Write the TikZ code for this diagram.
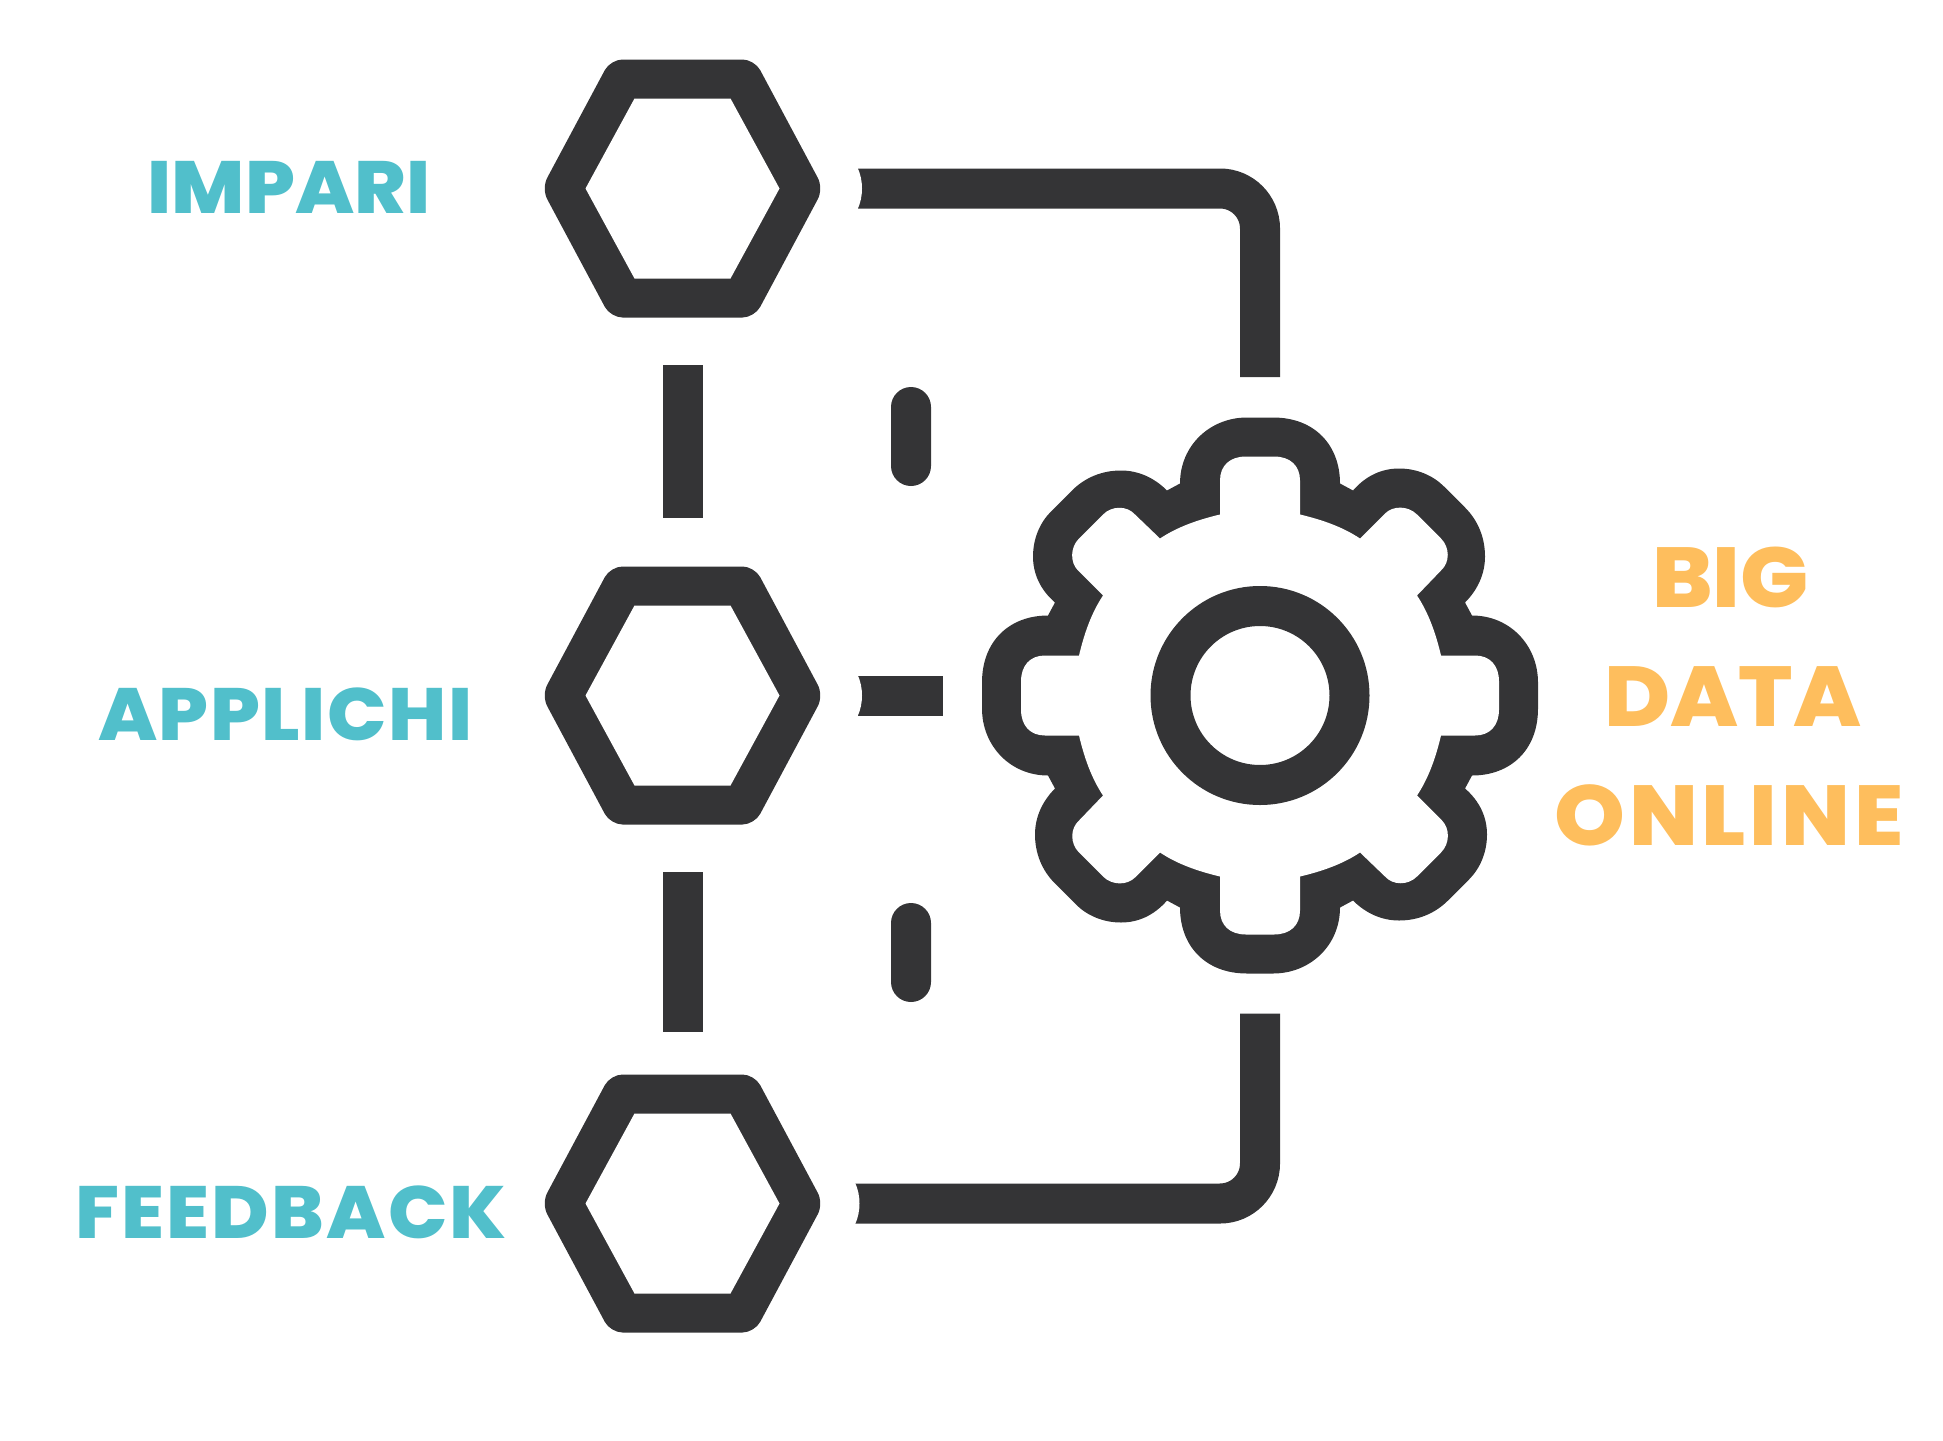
\documentclass[tikz,border=0pt]{standalone}
\usepackage{fontspec}
\setmainfont{Poppins}[BoldFont = {Poppins ExtraBold}, FakeStretch = 1.06]
\usetikzlibrary{shapes.misc}
\definecolor{ink}{HTML}{343436}
\definecolor{teal}{HTML}{51BFCB}
\definecolor{amber}{HTML}{FEBE5D}
\tikzset{
  hexnode/.style = {shape = rectangle, minimum width = 236pt, minimum height = 219pt, inner sep = 0pt, outer sep = 0pt},
  link/.style = {draw = ink, line width = 40pt},
  capsule/.style = {shape = rounded rectangle, fill = ink, minimum width = 99pt, minimum height = 40pt, inner sep = 0pt, rotate = 90},
  steplabel/.style = {text = teal, font = \fontsize{74}{74}\selectfont\bfseries, anchor = base, inner sep = 0pt},
  biglabel/.style = {text = amber, font = \fontsize{85}{85}\selectfont\bfseries, anchor = base, inner sep = 0pt}
}
\begin{document}
\begin{tikzpicture}[x = 1pt, y = -1pt]
\useasboundingbox (0,0) rectangle (1943,1440);
\node[hexnode] (impari) at (682.5,188.5) {};
\node[hexnode] (applichi) at (682.5,695.5) {};
\node[hexnode] (feedback) at (682.5,1203.5) {};
\node[shape = circle, minimum size = 557pt, inner sep = 0pt, outer sep = 0pt] (gear) at (1260,695.5) {};
\foreach \name in {impari,applichi,feedback} {
  \fill[ink, rounded corners = 12pt, shift = {(\name.center)}] (-141,0) -- (-72,-129) -- (72,-129) -- (141,0) -- (72,129) -- (-72,129) -- cycle;
  \fill[white, shift = {(\name.center)}] (-97,0) -- (-48,-90) -- (48,-90) -- (97,0) -- (48,90) -- (-48,90) -- cycle;
}
% gear body
\fill[ink, shift = {(gear.center)}] (0,-278) foreach \ang in {0,-90,-180,-270} {{[rotate = \ang]
  -- (-13,-278) -- (13,-278) .. controls (55,-278) and (80,-250) .. (80,-212)
  -- (93,-205) .. controls (106,-220) and (122,-227) .. (139,-227)
  .. controls (157,-227) and (173,-220) .. (184,-209) -- (205,-188)
  .. controls (218,-175) and (225,-158) .. (225,-139)
  .. controls (225,-122) and (218,-106) .. (205,-93)
  -- (212,-80) .. controls (250,-80) and (278,-50) .. (278,-13)
}} -- cycle;
\fill[white, shift = {(gear.center)}] (0,-239) foreach \ang in {0,-90,-180,-270} {{[rotate = \ang]
  -- (-14,-239) -- (14,-239) .. controls (30,-239) and (40,-230) .. (40,-215)
  -- (40,-181) .. controls (61,-176) and (82,-169) .. (100,-157)
  -- (125,-182) .. controls (133,-190) and (148,-190) .. (157,-181)
  -- (181,-157) .. controls (190,-148) and (190,-133) .. (181,-125)
  -- (157,-100) .. controls (169,-82) and (176,-61) .. (181,-40)
  -- (215,-40) .. controls (230,-40) and (239,-30) .. (239,-14)
}} -- cycle;
\draw[ink, line width = 40pt] (gear.center) circle (89.5);
% connectors
\draw[link, rounded corners = 40pt, shorten < = 57pt, shorten > = 40pt] (impari.east) -| (gear.north);
\draw[link, shorten < = 57pt, shorten > = 39pt] (applichi.east) -- (gear.west);
\draw[link, rounded corners = 40pt, shorten < = 54.5pt, shorten > = 39.5pt] (feedback.east) -| (gear.south);
\draw[link, shorten < = 67pt, shorten > = 68pt] (impari) -- (applichi);
\draw[link, shorten < = 67pt, shorten > = 62pt] (applichi) -- (feedback);
\foreach \name/\gap in {impari/57,applichi/57,feedback/54.5} {
  \fill[white, shift = {(\name.east)}] (\gap,-21) .. controls (\gap+6,-8) and (\gap+6,8) .. (\gap,21) -- (\gap-3,21) -- (\gap-3,-21) -- cycle;
}
\node[capsule] (upperdash) at (911,436.5) {};
\node[capsule] (lowerdash) at (911,952.5) {};
% labels
\node[steplabel] (imparilabel) at (289,213) {IMPARI};
\node[steplabel] (applichilabel) at (285.5,740) {\addfontfeature{LetterSpace = 2.1}APPLICHI};
\node[steplabel] (feedbacklabel) at (291,1238) {\addfontfeature{LetterSpace = 3.1}FEEDBACK};
\node[biglabel] (biglabel) at (1730.5,607) {BIG};
\node[biglabel] (datalabel) at (1733,726) {DATA};
\node[biglabel] (onlinelabel) at (1729,845) {\addfontfeature{LetterSpace = 4.4}ONLINE};
\end{tikzpicture}
\end{document}
